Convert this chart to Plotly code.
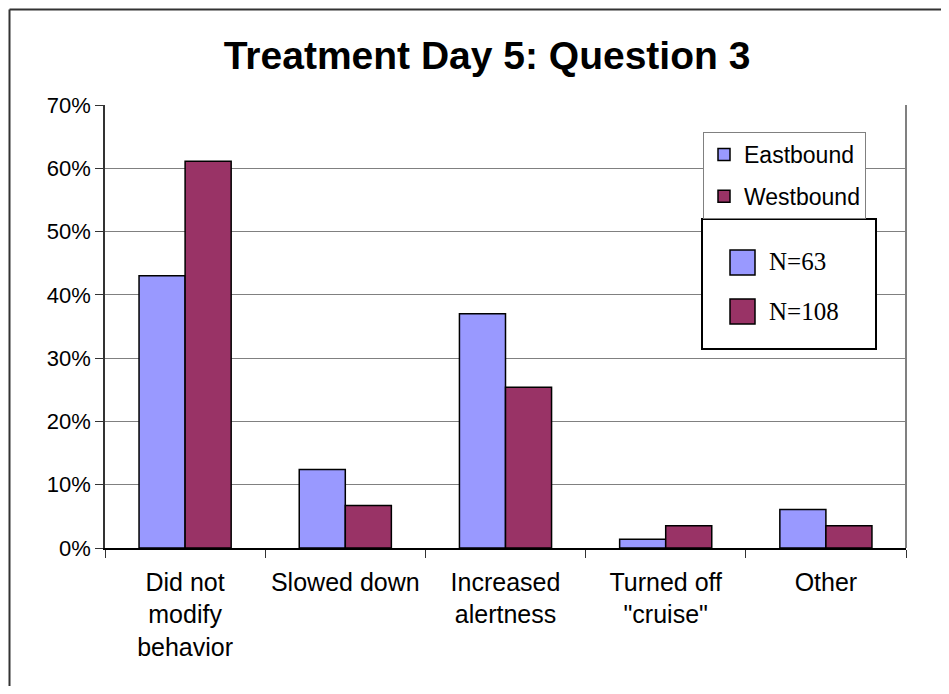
import plotly.graph_objects as go

categories = ["Did not<br>modify<br>behavior", "Slowed down", "Increased<br>alertness", "Turned off<br>\"cruise\"", "Other"]
eastbound = [43.0, 12.4, 37.0, 1.4, 6.1]
westbound = [61.1, 6.7, 25.4, 3.5, 3.5]
series_names = ["Eastbound", "Westbound"]
n_labels = ["N=63", "N=108"]
y_ticks = [0, 10, 20, 30, 40, 50, 60, 70]
y_tick_labels = ["0%", "10%", "20%", "30%", "40%", "50%", "60%", "70%"]

OFF = 8  # default page body margin
W, H = 949 - 2 * OFF, 694 - 2 * OFF
# plot area in page pixels
L, R, T, B = 105, 906, 105, 548

def px(x):
    return (x - L) / (R - L)

def py(y):
    return (B - y) / (B - T)

east_col = "#9999FF"
west_col = "#993366"
font = "Liberation Sans, Arial, sans-serif"

fig = go.Figure()
fig.add_trace(go.Bar(x=categories, y=eastbound, name=series_names[0], legendgroup="e",
                     marker=dict(color=east_col, line=dict(color="black", width=1.5))))
fig.add_trace(go.Bar(x=categories, y=westbound, name=series_names[1], legendgroup="w",
                     marker=dict(color=west_col, line=dict(color="black", width=1.5))))

shapes = []
# outer chart border (left and top visible)
shapes.append(dict(type="line", xref="paper", yref="paper", x0=px(9.5), x1=px(9.5), y0=py(9.5), y1=py(OFF + H),
                   line=dict(color="#333333", width=2)))
shapes.append(dict(type="line", xref="paper", yref="paper", x0=px(9.5), x1=px(OFF + W), y0=py(9.5), y1=py(9.5),
                   line=dict(color="#333333", width=2)))
# plot area right border
shapes.append(dict(type="line", xref="paper", yref="paper", x0=1, x1=1, y0=0, y1=1,
                   line=dict(color="#808080", width=2)))
# second legend box
shapes.append(dict(type="rect", xref="paper", yref="paper", x0=px(702), x1=px(876), y0=py(349), y1=py(219),
                   line=dict(color="black", width=2), fillcolor="white", layer="above"))
cols = [east_col, west_col]
sq_tops = [250, 299]
text_y = [262, 311]
annotations = []
for i in range(2):
    shapes.append(dict(type="rect", xref="paper", yref="paper", x0=px(730), x1=px(755),
                       y0=py(sq_tops[i] + 25), y1=py(sq_tops[i]),
                       line=dict(color="black", width=1.5), fillcolor=cols[i], layer="above"))
    annotations.append(dict(xref="paper", yref="paper", x=px(767), y=py(text_y[i]), text=n_labels[i],
                            showarrow=False, xanchor="left", yanchor="middle",
                            font=dict(family="Liberation Serif, Times New Roman, serif", size=25, color="black")))

fig.update_layout(
    width=W, height=H,
    margin=dict(l=L - OFF, r=W - (R - OFF), t=T - OFF, b=H - (B - OFF), autoexpand=False),
    paper_bgcolor="white", plot_bgcolor="white",
    bargap=0.425, bargroupgap=0,
    title=dict(text="<b>Treatment Day 5: Question 3</b>", xref="container", yref="container",
               x=(487 - OFF) / W, y=1 - (55 - OFF) / H, xanchor="center", yanchor="middle",
               font=dict(family=font, size=39, color="black")),
    font=dict(family=font, color="black"),
    showlegend=True,
    legend=dict(x=px(703), y=py(132), xanchor="left", yanchor="top",
                bgcolor="white", bordercolor="#808080", borderwidth=1,
                font=dict(family=font, size=23, color="black"),
                tracegroupgap=9, itemclick=False, itemdoubleclick=False),
    shapes=shapes, annotations=annotations,
)
fig.update_xaxes(type="category", tickson="boundaries", ticks="outside", ticklen=8, tickcolor="#333333",
                 showline=True, linecolor="black", linewidth=1.5, showgrid=False,
                 ticklabelstandoff=11,
                 tickfont=dict(family=font, size=25, color="black"))
fig.update_yaxes(range=[0, 70], tickmode="array", tickvals=y_ticks, ticktext=y_tick_labels,
                 ticks="outside", ticklen=8,
                 tickcolor="#333333", showline=True, linecolor="#333333", linewidth=1.5,
                 showgrid=True, gridcolor="#808080", gridwidth=1, zeroline=False,
                 tickfont=dict(family=font, size=22, color="black"))
fig.write_html("out.html")
